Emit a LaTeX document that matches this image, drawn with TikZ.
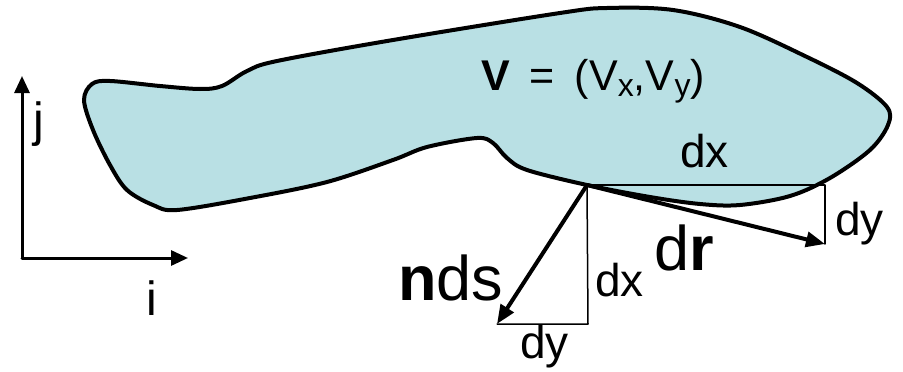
\documentclass[tikz,border=0pt]{standalone}
\usepackage{fontspec}
\setmainfont{Liberation Sans}
\usetikzlibrary{arrows.meta}
\definecolor{regionfill}{RGB}{185,224,228}
\tikzset{
  lbl/.style={inner sep=0pt,anchor=base west,font=\fontsize{46}{50}\selectfont},
  vlbl/.style={inner sep=0pt,anchor=base west,font=\fontsize{43}{46}\selectfont},
  axlbl/.style={inner sep=0pt,anchor=base west,font=\fontsize{48}{52}\selectfont},
  biglbl/.style={inner sep=0pt,anchor=base west,font=\fontsize{63}{66}\selectfont},
  thinline/.style={line width=1.5pt},
  vecarrow/.style={line width=4pt,-{Triangle[length=19pt,width=15pt]}},
  axarrow/.style={line width=3pt,-{Triangle[length=17pt,width=15pt]}}
}
\newcommand{\lowsub}[1]{\raisebox{-6pt}{\fontsize{32}{34}\selectfont #1}}

\begin{document}
\begin{tikzpicture}[x=1pt,y=-1pt,line cap=round,line join=round]
\useasboundingbox (0,0) rectangle (903,372);
% the region
\draw [line width=4pt,fill=regionfill] plot [smooth cycle,tension=0.55] coordinates {
 (84,100) (92,84) (110,81) (160,86) (200,89) (222,86) (247,71) (277,61)
 (393,40) (560,13) (607,8) (673,10) (740,27) (807,57) (857,83) (887,107)
 (888,125) (870,150) (830,178) (790,196) (740,205) (700,204) (650,197)
 (587,185) (527,170) (507,158) (493,143) (477,138) (427,147) (393,160)
 (327,182) (250,198) (177,210) (153,205) (127,190) (110,165) (93,130)};
% axes
\coordinate (O) at (22,258);
\coordinate (jtip) at (22,76);
\coordinate (itip) at (188,258);
\draw [axarrow] (O) -- (jtip);
\draw [axarrow] (O) -- (itip);
% triangles
\coordinate (P) at (587,185);
\coordinate (Q) at (825,185);
\coordinate (R) at (825,244);
\coordinate (S) at (588,324);
\coordinate (T) at (497,324);
\draw [thinline] (P) -- (Q) -- (R);
\draw [thinline] (P) -- (S) -- (T);
\draw [vecarrow] (P) -- (R);
\draw [vecarrow] (P) -- (T);
% labels
\node [vlbl] (vel) at (481,90) {\textbf{V}\hspace{20pt}=\hspace{20pt}(V\lowsub{x},V\lowsub{y})};
\node [lbl] (dxtop) at (680,167) {dx};
\node [lbl] (dyright) at (835,235) {dy};
\node [biglbl] (dr) at (654,270) {d\textbf{r}};
\node [lbl] (dxmid) at (595,296) {dx};
\node [biglbl] (nds) at (398,300) {\textbf{n}ds};
\node [lbl] (dybot) at (520,358) {dy};
\node [axlbl] (jlbl) at (33,136) {j};
\node [axlbl] (ilbl) at (146,315) {i};
\end{tikzpicture}
\end{document}
